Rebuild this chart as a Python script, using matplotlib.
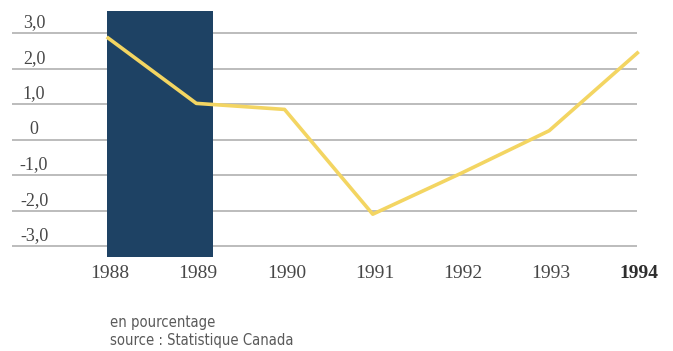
import matplotlib.pyplot as plt

# annual change, in percent
years = [1988, 1989, 1990, 1991, 1992, 1993, 1994]
growth = [2.86, 1.02, 0.85, -2.1, -0.95, 0.25, 2.44]
ytick_vals = [3, 2, 1, 0, -1, -2, -3]
ytick_labels = ['3,0', '2,0', '1,0', '0', '-1,0', '-2,0', '-3,0']
shade_span = (1987.99, 1989.19)

W, H = 673, 351
fig = plt.figure(figsize=(W / 100, H / 100), dpi=100)
# axes placed in pixel terms: left 12, right 640, top 5, bottom 260
ax = fig.add_axes([12 / W, 1 - 260 / H, (640 - 12) / W, (260 - 5) / H])
ax.set_xlim(1986.91, 1994.03)
ax.set_ylim(-3.39, 3.79)
ax.axis('off')

navy = '#1e4264'
yellow = '#f3d562'
grey = '#a9a9a9'
txt = '#474747'

# shaded block behind the first two years
ax.axvspan(shade_span[0], shade_span[1], ymin=(-3.3 + 3.39) / 7.18,
           ymax=(3.62 + 3.39) / 7.18, color=navy, zorder=1, lw=0)

for v, lab in zip(ytick_vals, ytick_labels):
    ax.plot([1986.91, 1994.0], [v, v], color=grey, lw=1.1, zorder=0, solid_capstyle='butt')
    ax.text(1987.16, v + 0.05, lab, ha='center', va='bottom',
            family='Liberation Serif', fontsize=13, color=txt)

ax.plot(years, growth, color=yellow, lw=2.6, zorder=3, solid_joinstyle='round')

for y in years:
    ax.text(y + 0.02, -3.77, str(y), ha='center', va='center', family='Liberation Serif',
            fontsize=14, color='#2e2e2e' if y == 1994 else txt,
            fontweight='bold' if y == 1994 else 'normal', clip_on=False)

note_font = dict(ha='left', va='center', family='DejaVu Sans', fontstretch='condensed',
                 fontsize=10.6, color='#5a5a5a')
fig.text(110 / W, 1 - 322 / H, 'en pourcentage', **note_font)
fig.text(110 / W, 1 - 340 / H, 'source : Statistique Canada', **note_font)

fig.savefig('out.png', dpi=100)
